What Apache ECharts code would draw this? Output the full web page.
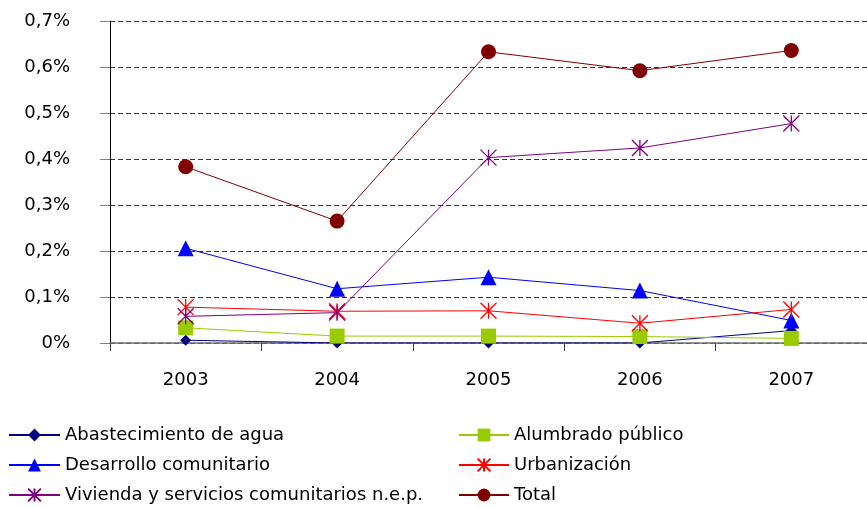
<!DOCTYPE html>
<html>
<head>
<meta charset="utf-8">
<script src="https://cdn.jsdelivr.net/npm/echarts@6/dist/echarts.min.js"></script>
<style>
  html, body { margin: 0; padding: 0; background: #fff; }
  #chart { width: 867px; height: 507px; }
</style>
</head>
<body>
<div id="chart"></div>
<script>
// values in percent (0.38 -> 0,38%)
const years = ['2003', '2004', '2005', '2006', '2007']
const abastecimiento = [0.006, 0.0, 0.0, 0.0, 0.027]
const alumbrado = [0.033, 0.015, 0.015, 0.014, 0.010]
const desarrollo = [0.206, 0.118, 0.143, 0.114, 0.049]
const urbanizacion = [0.078, 0.069, 0.070, 0.043, 0.073]
const vivienda = [0.058, 0.066, 0.403, 0.424, 0.477]
const total = [0.383, 0.265, 0.633, 0.592, 0.636]
const yTicks = [0, 0.1, 0.2, 0.3, 0.4, 0.5, 0.6, 0.7]

const font = 'DejaVu Sans'
const star = 'path://M0,0 L10,10 M10,0 L0,10 M5,0 L5,10'

const chart = echarts.init(document.getElementById('chart'))

function mkLine (name, data, color, symbol, size) {
  return {
    name: name,
    type: 'line',
    data: data,
    symbol: symbol,
    symbolSize: size,
    showSymbol: true,
    lineStyle: { color: color, width: 1 },
    itemStyle: { color: color, borderColor: color, borderWidth: symbol === star ? 1.3 : 0 },
    emphasis: { disabled: true },
    animation: false
  }
}

const legendText = { color: '#000', fontFamily: font, fontSize: 18 }

const option = {
  backgroundColor: '#fff',
  grid: { left: 110, top: 21, width: 763, height: 322 },
  xAxis: {
    type: 'category',
    data: years,
    boundaryGap: true,
    axisLine: { lineStyle: { color: '#707070', width: 1.5 } },
    axisTick: { show: true, length: 8, lineStyle: { color: '#404040' } },
    axisLabel: { color: '#000', fontFamily: font, fontSize: 18, margin: 28 }
  },
  yAxis: {
    type: 'value',
    min: yTicks[0],
    max: yTicks[yTicks.length - 1],
    interval: 0.1,
    axisLine: { show: true, lineStyle: { color: '#000', width: 1 } },
    axisTick: { show: true, length: 10, lineStyle: { color: '#808080' } },
    axisLabel: {
      color: '#000',
      fontFamily: font,
      fontSize: 18,
      margin: 40,
      formatter: function (v) {
        return (v === 0 ? '0' : v.toFixed(1).replace('.', ',')) + '%'
      }
    },
    splitLine: { show: true, lineStyle: { color: '#333', type: [5, 3], width: 1 } }
  },
  legend: [
    {
      orient: 'vertical',
      left: 8,
      top: 426,
      padding: 0,
      itemWidth: 51,
      itemHeight: 16,
      itemGap: 12,
      textStyle: legendText,
      data: ['Abastecimiento de agua', 'Desarrollo comunitario', 'Vivienda y servicios comunitarios n.e.p.']
    },
    {
      orient: 'vertical',
      left: 458,
      top: 426,
      padding: 0,
      itemWidth: 50,
      itemHeight: 16,
      itemGap: 12,
      textStyle: legendText,
      data: ['Alumbrado público', 'Urbanización', 'Total']
    }
  ],
  series: [
    mkLine('Abastecimiento de agua', abastecimiento, '#000080', 'diamond', 11),
    mkLine('Alumbrado público', alumbrado, '#99CC00', 'rect', 15),
    mkLine('Desarrollo comunitario', desarrollo, '#0000FF', 'triangle', 16),
    mkLine('Urbanización', urbanizacion, '#FF0000', star, 16),
    mkLine('Vivienda y servicios comunitarios n.e.p.', vivienda, '#800080', star, 16),
    mkLine('Total', total, '#800000', 'circle', 15)
  ]
}

chart.setOption(option)
</script>
</body>
</html>
